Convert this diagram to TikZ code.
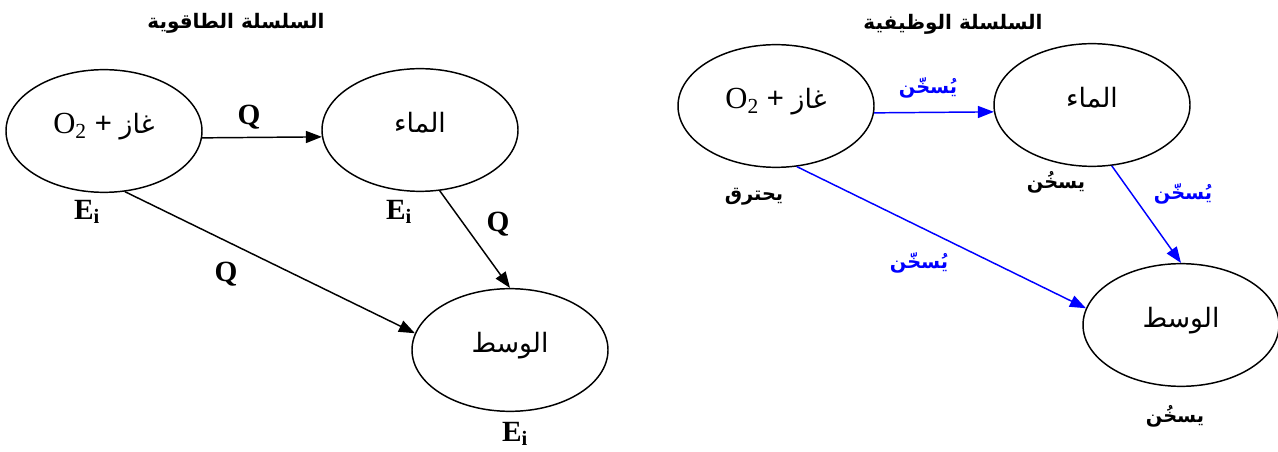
\documentclass[tikz,border=0pt]{standalone}
\usepackage{fontspec}
\setmainfont{Liberation Serif}
\newfontfamily\arabicfont[Script=Arabic]{DejaVu Sans}
\TeXXeTstate=1
\usetikzlibrary{arrows.meta, shapes.geometric, positioning}
\newcommand{\artext}[1]{{\arabicfont\beginR #1\endR}}
\newcommand{\arbody}[1]{{\fontsize{20}{24}\selectfont\artext{#1}}}

\begin{document}
\begin{tikzpicture}[
    x=0.75pt, y=-0.75pt,
    body/.style={ellipse, draw, line width=1.1pt, inner sep=0pt,
                 minimum width=147pt, minimum height=92pt,
                 text height=16pt, text depth=12pt,
                 font=\fontsize{23}{26}\selectfont},
    flow/.style={-{Triangle[length=12pt, width=9pt]}, line width=1.1pt},
    qlab/.style={font=\fontsize{22}{24}\selectfont\bfseries},
    verb/.style={font=\fontsize{14.5}{17}\selectfont\bfseries},
    heading/.style={font=\fontsize{15}{18}\selectfont\bfseries}
  ]
  \useasboundingbox (0,0) rectangle (1278,452);

  % energy chain
  \node[heading] (tleft) at (236,23) {\artext{السلسلة الطاقوية}};
  \node[body] (gasL)   at (104,131) {O\textsubscript{2} \textbf{+} \arbody{غاز}};
  \node[body] (waterL) at (420,130) {\arbody{الماء}};
  \node[body] (medL)   at (510,350) {\arbody{الوسط}};

  \draw[flow] (gasL.-4)   -- (waterL.184);
  \draw[flow] (gasL.-71)  -- (medL.170);
  \draw[flow] (waterL.-72) -- (medL.north);

  \node[qlab] (q1) at (249,117) {Q};
  \node[qlab] (q2) at (498,224) {Q};
  \node[qlab] (q3) at (226,274) {Q};
  \node[qlab] (e1) at (87,212)  {E\textsubscript{i}};
  \node[qlab] (e2) at (399,212) {E\textsubscript{i}};
  \node[qlab] (e3) at (515,434) {E\textsubscript{i}};

  % functional chain
  \node[heading] (tright) at (953,24) {\artext{السلسلة الوظيفية}};
  \node[body] (gasR)   at (776,106) {O\textsubscript{2} \textbf{+} \arbody{غاز}};
  \node[body] (waterR) at (1092,105) {\arbody{الماء}};
  \node[body] (medR)   at (1181,325) {\arbody{الوسط}};

  \draw[flow, blue] (gasR.-4)   -- (waterR.184);
  \draw[flow, blue] (gasR.-71)  -- (medR.170);
  \draw[flow, blue] (waterR.-72) -- (medR.north);

  \node[verb, blue] (h1) at (928,88)   {\artext{يُسخّن}};
  \node[verb, blue] (h2) at (1183,194) {\artext{يُسخّن}};
  \node[verb, blue] (h3) at (919,263)  {\artext{يُسخّن}};
  \node[verb] (burn)  at (754,197)  {\artext{يحترق}};
  \node[verb] (warm1) at (1056,182) {\artext{يسخُن}};
  \node[verb] (warm2) at (1175,416) {\artext{يسخُن}};
\end{tikzpicture}
\end{document}
